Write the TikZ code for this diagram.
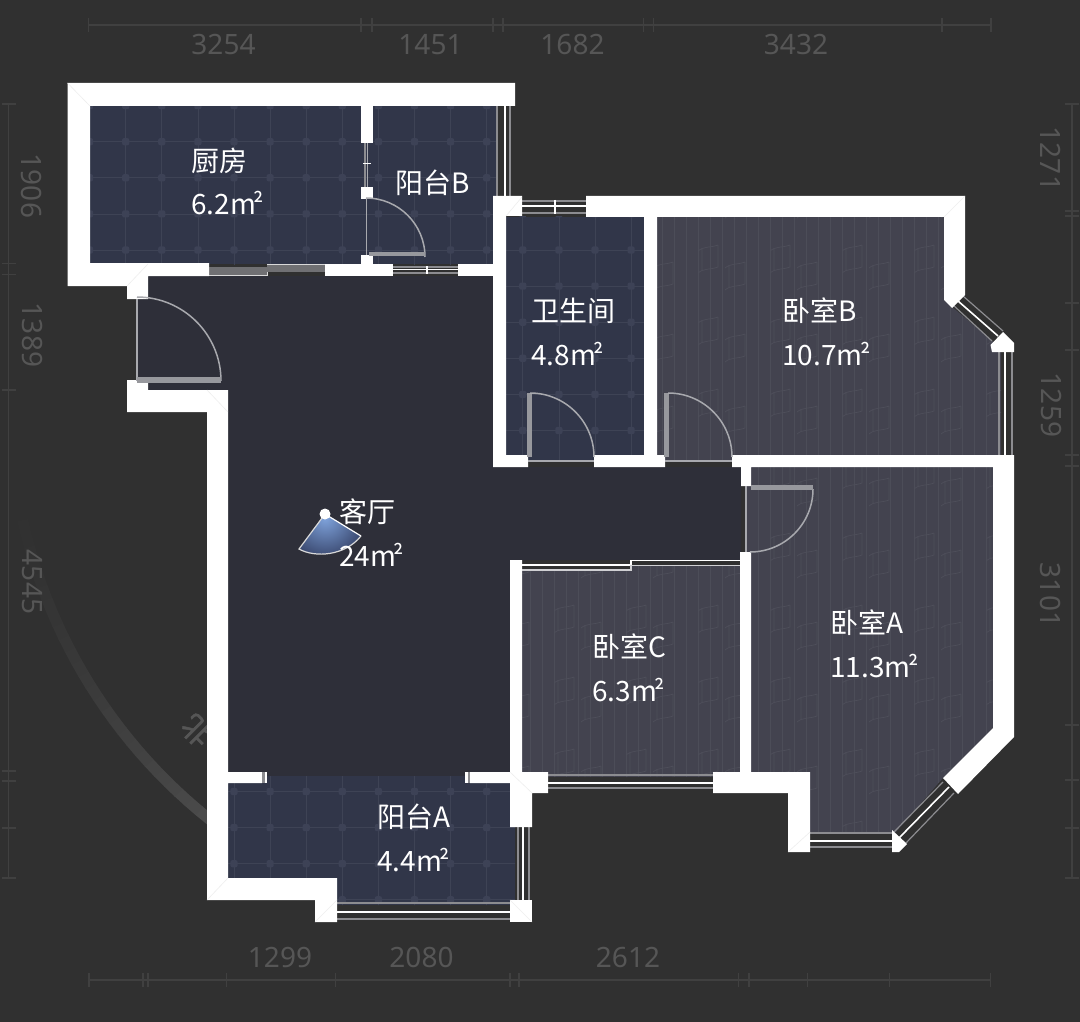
\documentclass[tikz,border=0pt]{standalone}
\usepackage{fontspec}
\setmainfont{Noto Sans CJK SC}
\newfontfamily\cjk{Noto Sans CJK SC}
\newfontfamily\cjkb[FakeBold=1.6]{Noto Sans CJK SC}
\newfontfamily\dimf{Noto Sans}
\usetikzlibrary{shadings}
\definecolor{bgc}{HTML}{303030}
\definecolor{livc}{HTML}{2E2F39}
\definecolor{tilec}{HTML}{313649}
\definecolor{tilel}{HTML}{3E4355}
\definecolor{tiled}{HTML}{3D4256}
\definecolor{woodc}{HTML}{43434F}
\definecolor{woodl}{HTML}{4C4D58}
\definecolor{woodp}{HTML}{4E4F5A}
\definecolor{rulec}{HTML}{404040}
\definecolor{dimc}{HTML}{565656}
\definecolor{bandc}{HTML}{4C4C4C}
\definecolor{greyw}{HTML}{8C8C90}
\definecolor{doorc}{HTML}{A8A9AE}
\definecolor{seamc}{HTML}{EEEEEE}
\definecolor{conei}{HTML}{7FA3DC}
\definecolor{coneo}{HTML}{2F3A5E}
\newcommand{\msq}{m\kern-2.5pt\raisebox{1pt}{\fontsize{25}{25}\selectfont ²}}
\tikzset{
  x=1pt,y=-1pt,
  wall/.style={fill=white,draw=none},
  rule/.style={draw=rulec,line width=1.6pt},
  dimtxt/.style={inner sep=0pt,text=dimc,font=\dimf\fontsize{28}{28}\selectfont},
  roomtxt/.style={anchor=west,inner sep=0pt,text=white,font=\cjk\fontsize{28}{28}\selectfont},
  wgrey/.style={draw=greyw,line width=2pt},
  wwhite/.style={draw=white,line width=1.6pt},
  darc/.style={draw=doorc,line width=1.5pt},
  dleaf/.style={draw=doorc,line width=1.4pt},
  dband/.style={fill=doorc!90!black},
  seam/.style={draw=seamc,line width=0.6pt}
}
% tile grid: global lattice, x=125.7+36.1 i, y=141.7+36.1 j
\newcommand{\tilegrid}[4]{%
  \foreach \i in {#1,...,#2}{%
    \pgfmathsetmacro{\xx}{125.7+36.1*\i}%
    \draw[tilel,line width=0.7pt] (\xx,60) -- (\xx,960);}%
  \foreach \j in {#3,...,#4}{%
    \pgfmathsetmacro{\yy}{141.7+36.1*\j}%
    \draw[tilel,line width=0.7pt] (60,\yy) -- (660,\yy);}%
  \foreach \i in {#1,...,#2}{\foreach \j in {#3,...,#4}{%
    \pgfmathsetmacro{\xx}{125.7+36.1*\i}%
    \pgfmathsetmacro{\yy}{141.7+36.1*\j}%
    \fill[tiled,rounded corners=2pt] (\xx-3.6,\yy-3.6) rectangle (\xx+3.6,\yy+3.6);}}%
}
% wood: planks every 12 px and a repeating grain mark
\newcommand{\grain}[2]{%
  \draw[woodp,line width=0.7pt] (#1,#2+6) .. controls (#1+6,#2+1) and (#1+12,#2+3) .. (#1+20,#2) (#1+4,#2+3) -- (#1+4,#2+26) (#1+20,#2) -- (#1+20,#2+22) .. controls (#1+12,#2+25) and (#1+6,#2+23) .. (#1,#2+28);%
}
\newcommand{\woodgrid}[4]{%
  \foreach \i in {#1,...,#2}{%
    \pgfmathsetmacro{\xx}{770+12*\i}%
    \draw[woodl,line width=0.7pt] (\xx,#3) -- (\xx,#4);}%
  \pgfmathtruncatemacro{\ia}{floor((#1)/6)-1}%
  \pgfmathtruncatemacro{\ib}{ceil((#2)/6)+1}%
  \pgfmathtruncatemacro{\ja}{floor((#3-245)/72)-1}%
  \pgfmathtruncatemacro{\jb}{ceil((#4-245)/72)+1}%
  \foreach \i in {\ia,...,\ib}{\foreach \j in {\ja,...,\jb}{%
    \pgfmathsetmacro{\gx}{770+72*\i}\pgfmathsetmacro{\gy}{245+72*\j}%
    \grain{\gx}{\gy}%
    \pgfmathsetmacro{\gx}{797+72*\i}\pgfmathsetmacro{\gy}{262+72*\j}%
    \grain{\gx}{\gy}%
  }}%
}
\begin{document}
\begin{tikzpicture}
\useasboundingbox (0,0) rectangle (1080,1022);
\fill[bgc] (0,0) rectangle (1080,1022);

% compass ring and north mark (behind the plan)
\foreach \a in {127,128.5,...,170}{%
  \pgfmathsetmacro{\p}{100*((170-\a)/43)^1.5}%
  \pgfmathsetmacro{\b}{\a+1.6}%
  \draw[line width=11pt,color=bandc!\p!bgc] ([shift={(540,405)}]\a:530) -- ([shift={(540,405)}]\b:530);}
\node[rotate=135,inner sep=0pt,text=dimc,font=\cjkb\fontsize{30}{30}\selectfont] (north) at (197,731) {北};

% rulers
\draw[rule] (88,25) -- (991,25);
\foreach \x in {88.6,361,372,493,503,643.6,653.6,942,991}{\draw[rule,line width=1.2pt] (\x,18) -- (\x,32);}
\draw[rule] (89,980) -- (991,980);
\foreach \x in {89,143,148,226.6,335.6,510,519,738.5,749,807.7,889.7,990.8}{\draw[rule,line width=1.2pt] (\x,973) -- (\x,987);}
\draw[rule] (8.5,104) -- (8.5,878);
\foreach \y in {104,263.5,274.7,390,771,781,828,878}{\draw[rule,line width=1.2pt] (1.5,\y) -- (15.5,\y);}
\draw[rule] (1071.7,104) -- (1071.7,878);
\foreach \y in {104,211,216,303,350,455,466,725,780,828,878}{\draw[rule,line width=1.2pt] (1064.7,\y) -- (1078.7,\y);}

\node[dimtxt] (d1) at (223.5,45) {3254};
\node[dimtxt] (d2) at (430.5,45) {1451};
\node[dimtxt] (d3) at (572.5,45) {1682};
\node[dimtxt] (d4) at (796,45) {3432};
\node[dimtxt] (d5) at (280,957) {1299};
\node[dimtxt] (d6) at (421.5,957) {2080};
\node[dimtxt] (d7) at (628,957) {2612};
\node[dimtxt,rotate=-90] (d8) at (32,186) {1906};
\node[dimtxt,rotate=-90] (d9) at (32,335) {1389};
\node[dimtxt,rotate=-90] (d10) at (32,582) {4545};
\node[dimtxt,rotate=-90] (d11) at (1051,159) {1271};
\node[dimtxt,rotate=-90] (d12) at (1051,405) {1259};
\node[dimtxt,rotate=-90] (d13) at (1051,595) {3101};

% living room floor
\fill[livc] (148,276) -- (493,276) -- (493,467) -- (741,467) -- (741,560) -- (510,560) -- (510,776) -- (228,776) -- (228,390) -- (137,390) -- (137,299) -- (148,299) -- cycle;

% tiled floors
\begin{scope}
\clip (90,106) rectangle (496,264);
\fill[tilec] (90,106) rectangle (496,264);
\tilegrid{-1}{11}{-1}{3}
\end{scope}
\begin{scope}
\clip (505,217) rectangle (644,460);
\fill[tilec] (505,217) rectangle (644,460);
\tilegrid{10}{15}{2}{9}
\end{scope}
\begin{scope}
\clip (228,776) -- (515,776) -- (515,905) -- (337,905) -- (337,878) -- (228,878) -- cycle;
\fill[tilec] (228,776) rectangle (515,905);
\tilegrid{2}{11}{17}{21}
\end{scope}

% wooden floors
\begin{scope}
\clip (657,217) -- (944,217) -- (944,300) -- (997,345) -- (1001,352) -- (1001,455) -- (732,455) -- (732,460) -- (665,460) -- (665,455) -- (657,455) -- cycle;
\fill[woodc] (657,217) rectangle (1005,460);
\woodgrid{-10}{20}{217}{460}
\end{scope}
\begin{scope}
\clip (751,467) -- (993,467) -- (993,728) -- (943,778) -- (895,833) -- (810,833) -- (810,772) -- (751,772) -- (751,552) -- (746,552) -- (746,486) -- (751,486) -- cycle;
\fill[woodc] (746,467) rectangle (993,833);
\woodgrid{-2}{19}{467}{833}
\end{scope}
\begin{scope}
\clip (522,570) -- (631,570) -- (631,566) -- (740,566) -- (740,772) -- (713,777) -- (548,777) -- (522,772) -- cycle;
\fill[woodc] (522,560) rectangle (740,777);
\woodgrid{-21}{-3}{560}{777}
\end{scope}

% windows
\draw[wgrey] (497,106) -- (497,196); \draw[wwhite] (505,106) -- (505,196); \draw[wgrey,line width=1.2pt] (510,106) -- (510,196);
\draw[wgrey] (520,201) -- (586,201); \draw[wwhite] (520,206) -- (586,206); \draw[wgrey] (520,213) -- (586,213);
\draw[wwhite,line width=1.2pt] (555,200) -- (555,214);
\draw[wgrey] (393,267) -- (458,267); \draw[wwhite] (393,269.5) -- (458,269.5); \draw[wgrey] (393,272.5) -- (458,272.5);
\draw[wwhite] (427,266) -- (427,274);
\fill[greyw!80!black] (209,267) rectangle (267,274.5);
\draw[draw=white!85!black,line width=0.8pt] (209,275.5) -- (267,275.5) -- (267,264) -- (325,264);
\fill[greyw!80!black] (267,265) rectangle (325,272);
\draw[wgrey,line width=1.2pt] (365,143) -- (365,187);
\draw[draw=doorc,line width=1.6pt] (367.5,143) -- (367.5,187);
\draw[wwhite,line width=1pt] (363,164) -- (371,164);
\draw[wgrey,line width=1.4pt] (547,775) -- (713,775); \draw[wwhite] (547,783) -- (713,783); \draw[wgrey,line width=1.4pt] (547,788) -- (713,788);
\draw[wgrey,line width=1.4pt] (337,903) -- (510,903); \draw[wwhite] (337,912) -- (510,912); \draw[wgrey,line width=1.4pt] (337,919) -- (510,919);
\draw[wgrey,line width=1.4pt] (518,827) -- (518,900); \draw[wwhite] (523,827) -- (523,900); \draw[wgrey,line width=1.4pt] (529,827) -- (529,900);
\draw[wgrey,line width=1.4pt] (810,833) -- (892,833); \draw[wwhite] (810,841) -- (892,841); \draw[wgrey,line width=1.4pt] (810,847) -- (892,847);
\draw[wgrey,line width=1.2pt] (893,833) -- (943,782); \draw[wwhite] (899,838) -- (949,787); \draw[wgrey,line width=1.2pt] (905,844) -- (954,793);
\draw[wgrey,line width=1.2pt] (953,305) -- (992,341); \draw[wwhite] (958,301) -- (998,336); \draw[wgrey,line width=1.2pt] (963,296) -- (1003,331);
\draw[wgrey,line width=1.4pt] (999,352) -- (999,455); \draw[wwhite] (1005,352) -- (1005,455); \draw[wgrey,line width=1.2pt] (1012,352) -- (1012,455);
\draw[draw=white,line width=1.1pt] (522,565) -- (631,565) -- (631,560.5) -- (740,560.5);
\draw[draw=white!75!woodc,line width=1.1pt] (522,570) -- (631,570) -- (631,565.5) -- (740,565.5);

% walls
\fill[wall] (67.5,83) -- (515,83) -- (515,106) -- (90,106) -- (90,263) -- (209,263) -- (209,276) -- (148,276) -- (148,299) -- (127,299) -- (127,286) -- (67.5,286) -- cycle;
\fill[wall] (361,106) rectangle (373,143);
\fill[wall] (361,187) rectangle (373,199);
\fill[wall] (361,255) rectangle (373,264);
\fill[wall] (325,264) rectangle (393,276);
\fill[wall] (458,264) rectangle (493,276);
\fill[wall] (493,196) -- (522,196) -- (522,216) -- (506,216) -- (506,455) -- (528,455) -- (528,467) -- (493,467) -- cycle;
\fill[wall] (586,196) -- (965,196) -- (965,295) -- (952,308) -- (944,300) -- (944,217) -- (657,217) -- (657,455) -- (665,455) -- (665,467) -- (594,467) -- (594,455) -- (644,455) -- (644,217) -- (586,217) -- cycle;
\fill[wall] (732,455) -- (1014,455) -- (1014,737) -- (958,794) -- (943,778) -- (993,728) -- (993,467) -- (751,467) -- (751,486) -- (741,486) -- (741,467) -- (732,467) -- cycle;
\fill[wall] (740,552) -- (751,552) -- (751,772) -- (810,772) -- (810,852) -- (788,852) -- (788,793) -- (713,793) -- (713,772) -- (740,772) -- cycle;
\fill[wall] (510,560) -- (522,560) -- (522,772) -- (548,772) -- (548,793) -- (532,793) -- (532,827) -- (510,827) -- (510,783) -- (470,783) -- (470,772) -- (510,772) -- cycle;
\fill[wall] (127,380) -- (148,380) -- (148,390) -- (228,390) -- (228,772) -- (262,772) -- (262,783) -- (228,783) -- (228,878) -- (337,878) -- (337,922) -- (315,922) -- (315,900) -- (207,900) -- (207,412) -- (127,412) -- cycle;
\fill[wall] (510,900) rectangle (532,922);
\fill[wall] (892,830) -- (907,844) -- (899,852) -- (892,852) -- cycle;
\fill[wall] (1003,332) -- (1014,343) -- (1014,352) -- (992,352) -- (990.5,345) -- cycle;
\fill[white] (264.5,772) rectangle (267,783); \fill[greyw] (262,772) rectangle (264.5,783);
\fill[white] (465,772) rectangle (467.5,783); \fill[greyw] (467.5,772) rectangle (470,783);

% faint seams at wall corners
\draw[seam] (67.5,83) -- (90,106);
\draw[seam] (127,286) -- (148,264);
\draw[seam] (506,216) -- (522,197);
\draw[seam] (207,900) -- (228,878);
\draw[seam] (315,922) -- (337,900);
\draw[seam] (510,772) -- (532,793);
\draw[seam] (510,900) -- (532,922);
\draw[seam] (788,852) -- (810,832);
\draw[seam] (228,412) -- (207,390);
\draw[seam] (944,217) -- (965,196);

% doors
\draw[darc] (221,381) arc[start angle=0,end angle=90,radius=84pt];
\draw[dleaf] (137,299) -- (137,381);
\fill[dband] (137,376.5) rectangle (221,382.5);
\draw[darc] (425,257) arc[start angle=0,end angle=90,radius=59pt];
\draw[dleaf] (366.5,199) -- (366.5,255);
\fill[dband] (369,252) rectangle (425,256);
\fill[dband] (527,393) rectangle (532,457);
\draw[darc] (594,457) arc[start angle=0,end angle=90,radius=64pt];
\draw[dleaf] (528,461) -- (594,461);
\fill[dband] (664,393) rectangle (669,457);
\draw[darc] (732,457) arc[start angle=0,end angle=90,radius=64pt];
\draw[dleaf] (665,461) -- (732,461);
\draw[darc] (813,489) arc[start angle=0,end angle=-90,radius=63pt];
\draw[dleaf] (746,486) -- (746,552);
\fill[dband] (751,484.5) rectangle (813,489.5);

% view cone
\begin{scope}
\clip (325,514) -- (299,549) .. controls (315,558) and (345,556) .. (361,536) -- cycle;
\shade[inner color=conei,outer color=coneo] (325,518) circle (46pt);
\end{scope}
\draw[draw=white!70!gray,line width=1.2pt] (325,514) -- (299,549) .. controls (315,558) and (345,556) .. (361,536);
\draw[draw=white,line width=1.2pt] (361,536) -- (325,514);
\fill[white] (325,514) circle (5.5pt);

% room labels
\node[roomtxt] (kitchen) at (191,161) {厨房};
\node[roomtxt] (kitchena) at (191,203) {6.2\msq};
\node[roomtxt] (balb) at (395,183) {阳台B};
\node[roomtxt] (bath) at (531,311) {卫生间};
\node[roomtxt] (batha) at (531,354) {4.8\msq};
\node[roomtxt] (bedb) at (782,311) {卧室B};
\node[roomtxt] (bedba) at (782,354) {10.7\msq};
\node[roomtxt] (living) at (339,512) {客厅};
\node[roomtxt] (livinga) at (339,555) {24\msq};
\node[roomtxt] (bedc) at (592,647) {卧室C};
\node[roomtxt] (bedca) at (592,690) {6.3\msq};
\node[roomtxt] (beda) at (830,623) {卧室A};
\node[roomtxt] (bedaa) at (830,666) {11.3\msq};
\node[roomtxt] (bala) at (377,817) {阳台A};
\node[roomtxt] (balaa) at (377,860) {4.4\msq};
\end{tikzpicture}
\end{document}
